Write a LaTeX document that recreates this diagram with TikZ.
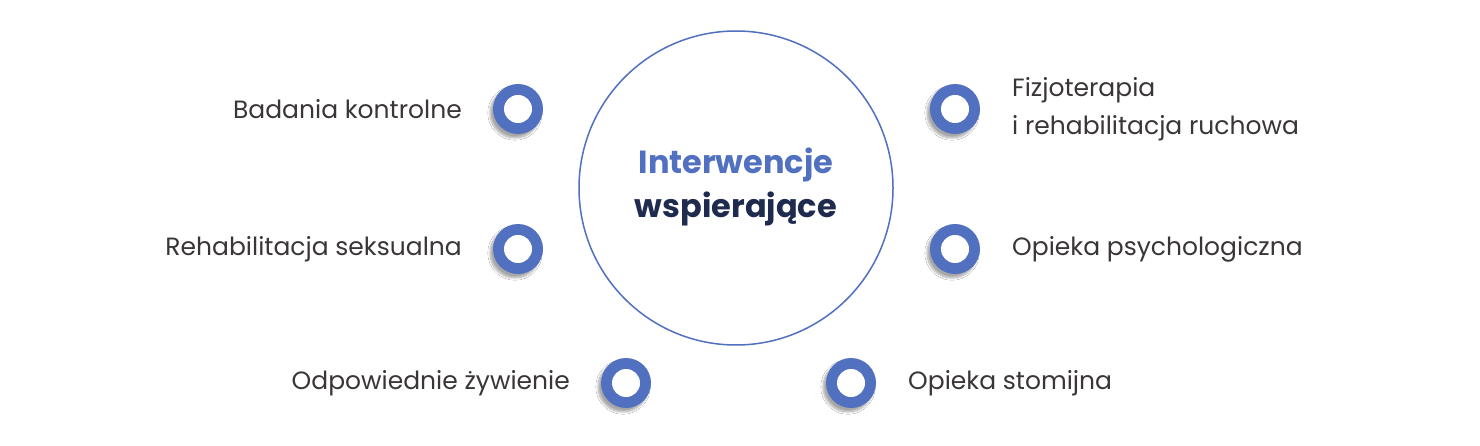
\documentclass[tikz,border=0pt]{standalone}
\usepackage{fontspec}
\setmainfont{Poppins}
\usetikzlibrary{shadows.blur}
\definecolor{bl}{HTML}{5170BF}
\definecolor{tx}{HTML}{3A3636}
\definecolor{nv}{HTML}{1F2A4F}
\tikzset{
 dot/.style={circle,fill=bl,minimum size=50pt,inner sep=0pt,blur shadow={shadow xshift=-3pt,shadow yshift=-4pt,shadow blur steps=8,shadow opacity=35}},
 hole/.style={circle,fill=white,minimum size=28pt,inner sep=0pt},
 lab/.style={text=tx,font=\fontsize{25}{38}\selectfont,inner sep=0pt}
}
\begin{document}
\begin{tikzpicture}[x=1pt,y=-1pt]
\useasboundingbox[fill=white] (0,0) rectangle (1480,446);
\node[circle,draw=bl,line width=1.5pt,minimum size=314pt,inner sep=0pt] (c) at (736,188) {};
\node[align=center,font=\bfseries\fontsize{32}{44}\selectfont] (t) at (736,187) {\textcolor{bl}{Interwencje}\\\textcolor{nv}{wspierające}};
\foreach \n/\x/\y in {a/518/109,b/518/249,c2/626/383,d/851/383,e/955/109,f/955/249}{
 \node[dot] (\n) at (\x,\y) {};
 \node[hole] at (\n) {};
}
\node[lab,anchor=east] (la) at (462,109) {Badania kontrolne};
\node[lab,anchor=east] (lb) at (462,249) {Rehabilitacja seksualna};
\node[lab,anchor=east] (lc) at (570,383) {Odpowiednie żywienie};
\node[lab,anchor=west] (ld) at (908,383) {Opieka stomijna};
\node[lab,anchor=west,align=left] (le) at (1012,109) {Fizjoterapia\\i rehabilitacja ruchowa};
\node[lab,anchor=west] (lf) at (1012,249) {Opieka psychologiczna};
\end{tikzpicture}
\end{document}
